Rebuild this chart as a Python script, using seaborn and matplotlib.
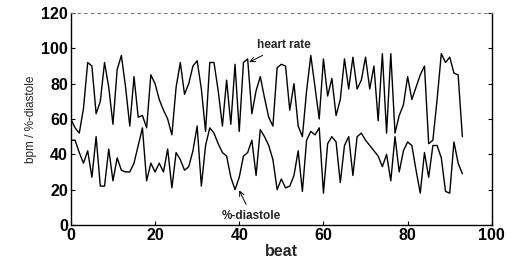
import numpy as np
import pandas as pd
import seaborn as sns
import matplotlib.pyplot as plt

# beat numbers and the two series
beats = list(range(94))
heart_rate = [60, 55, 52, 66, 92, 90, 63, 70, 92, 78,
              57, 88, 96, 78, 56, 84, 61, 62, 55, 85,
              80, 71, 65, 60, 51, 78, 92, 74, 80, 90,
              93, 77, 53, 92, 92, 76, 56, 82, 57, 91,
              53, 92, 94, 63, 76, 84, 72, 61, 56, 89,
              91, 90, 65, 80, 56, 50, 76, 96, 78, 60,
              94, 73, 83, 62, 71, 94, 77, 95, 77, 82,
              95, 77, 90, 59, 97, 52, 97, 52, 62, 68,
              84, 71, 78, 85, 90, 46, 48, 71, 97, 92,
              95, 86, 85, 50]
diastole = [48, 48, 41, 35, 42, 27, 50, 22, 22, 43,
            25, 38, 31, 30, 30, 35, 45, 55, 25, 35,
            30, 35, 30, 43, 21, 41, 37, 31, 33, 42,
            56, 22, 45, 55, 52, 46, 41, 39, 27, 20,
            27, 39, 41, 48, 28, 54, 50, 45, 37, 20,
            26, 21, 22, 28, 42, 19, 48, 53, 51, 55,
            18, 46, 50, 47, 24, 45, 50, 28, 50, 52,
            48, 45, 42, 39, 33, 40, 25, 50, 30, 42,
            47, 45, 31, 18, 41, 27, 45, 45, 38, 19,
            18, 47, 35, 29]

df = pd.DataFrame({'beat': beats + beats,
                   'value': heart_rate + diastole,
                   'series': ['heart rate'] * len(beats) + ['%-diastole'] * len(beats)})

sns.set_style('ticks')
plt.rcParams['font.family'] = ['Liberation Sans', 'DejaVu Sans']

fig = plt.figure(figsize=(5.21, 2.72), dpi=100)
ax = fig.add_axes([0.136, 0.173, 0.808, 0.779])
sns.lineplot(data=df, x='beat', y='value', units='series', estimator=None,
             color='black', linewidth=1.0, ax=ax, legend=False)

ax.set_xlim(0, 100)
ax.set_ylim(0, 120)
ax.set_xticks(range(0, 101, 20))
ax.set_yticks(range(0, 121, 20))
ax.tick_params(direction='in', length=3, width=0.8, labelsize=11.5, pad=2,
               right=True, labelright=False, colors='black')
for lab in ax.get_xticklabels() + ax.get_yticklabels():
    lab.set_fontweight('bold')
ax.set_xlabel('beat', fontsize=11.5, fontweight='bold', labelpad=1)
ax.set_ylabel('bpm / %-diastole', fontsize=8.5, labelpad=3)

for side in ['left', 'bottom', 'right']:
    ax.spines[side].set_color('black')
    ax.spines[side].set_linewidth(1.0)
ax.spines['top'].set_color('#777777')
ax.spines['top'].set_linestyle((0, (2, 4)))
ax.spines['top'].set_linewidth(0.8)

ax.annotate('heart rate', xy=(41.8, 91.5), xytext=(50.5, 102),
            ha='center', va='center', fontsize=8.5, fontweight='bold',
            arrowprops=dict(arrowstyle='->', color='black', lw=0.7))
ax.annotate('%-diastole', xy=(39.7, 21), xytext=(43, 5),
            ha='center', va='center', fontsize=8.5, fontweight='bold',
            arrowprops=dict(arrowstyle='->', color='black', lw=0.7))

fig.savefig('out.png', dpi=100)
